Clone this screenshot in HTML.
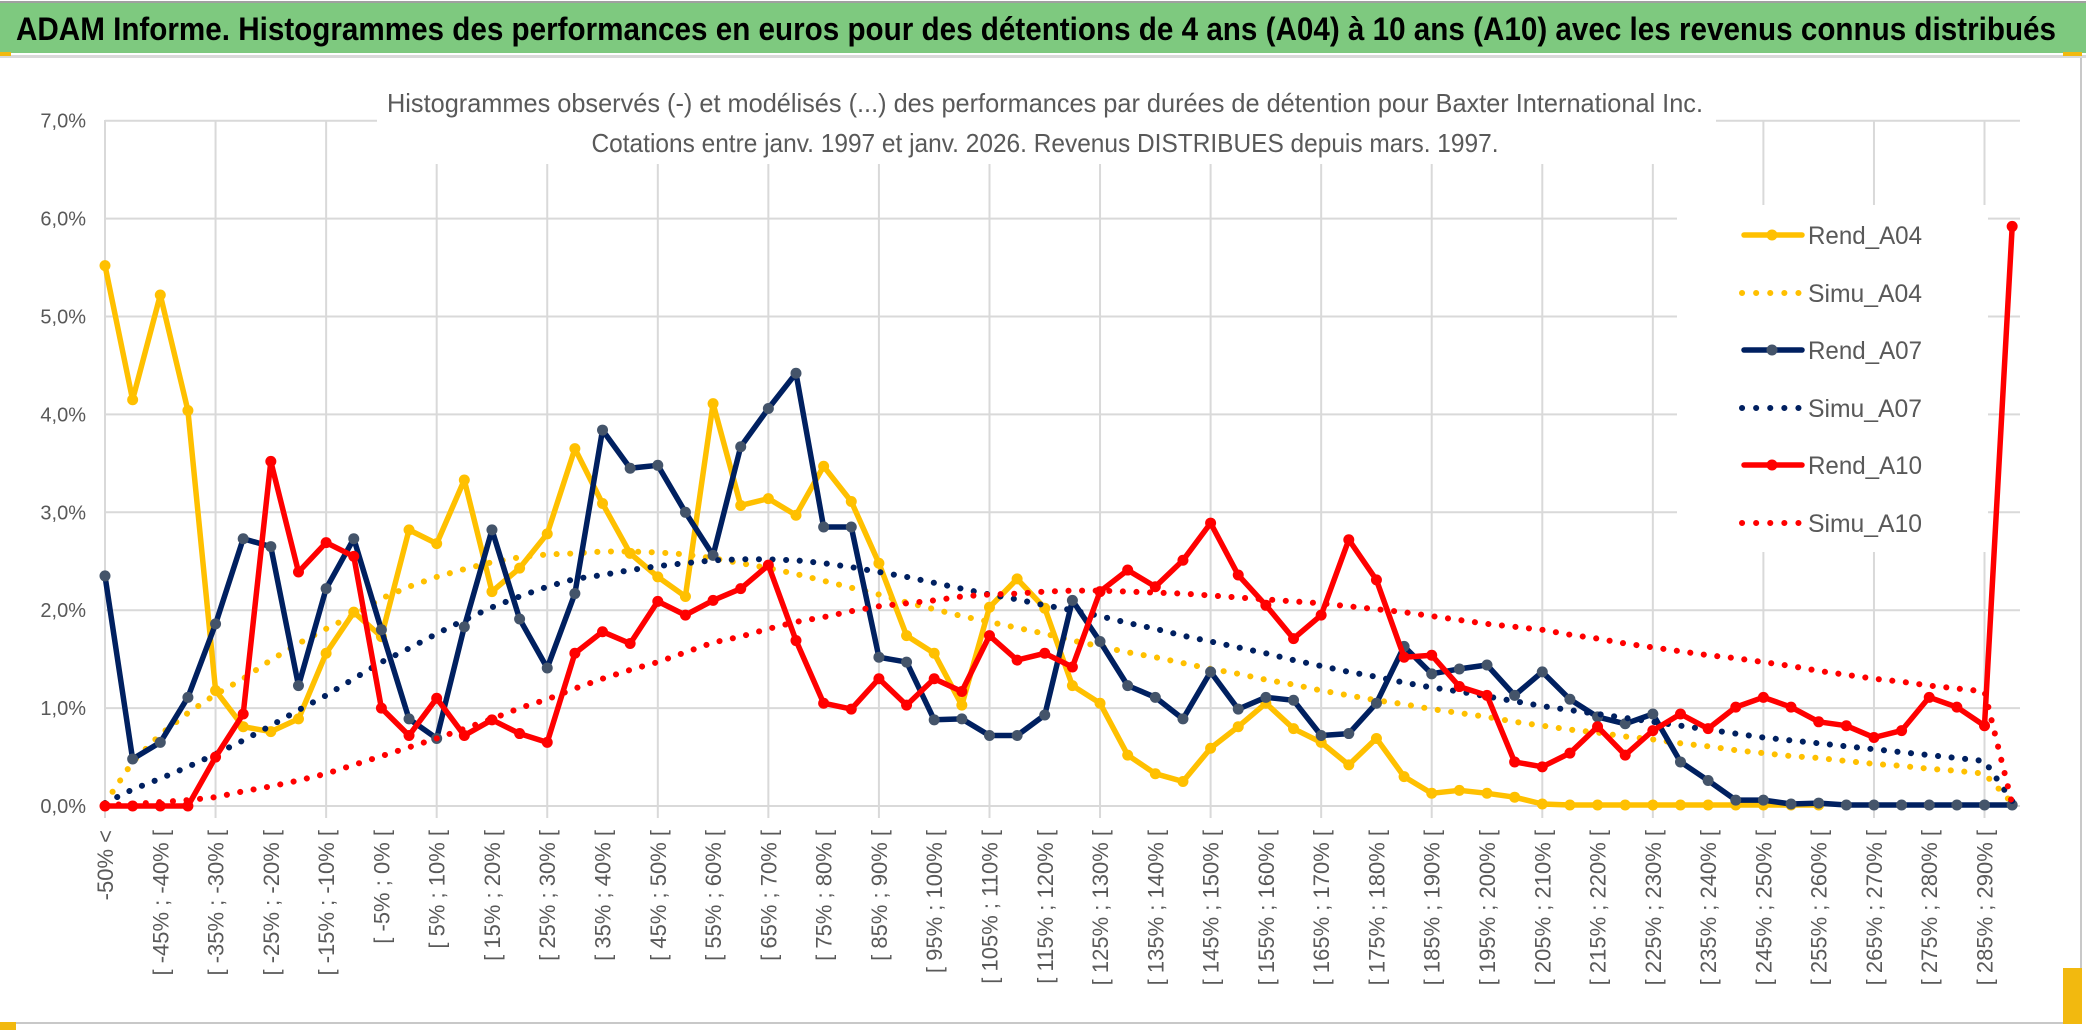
<!DOCTYPE html>
<html><head><meta charset="utf-8">
<style>
html,body{margin:0;padding:0;background:#fff;}
svg{display:block;}
text{font-family:"Liberation Sans Narrow","Liberation Sans",sans-serif;}
</style></head>
<body>
<svg id="chart" width="2086" height="1033" viewBox="0 0 2086 1033" xmlns="http://www.w3.org/2000/svg">
  <rect x="0" y="0" width="2086" height="1033" fill="#ffffff"/>
  <rect x="0" y="1" width="2086" height="2" fill="#a0a0a0"/>
  <rect x="0" y="3" width="2086" height="50" fill="#7ec97f"/>
  <text x="16" y="40" font-size="32" font-weight="bold" fill="#000" textLength="2040" lengthAdjust="spacingAndGlyphs">ADAM Informe. Histogrammes des performances en euros pour des détentions de 4 ans (A04) à 10 ans (A10) avec les revenus connus distribués</text>
  <rect x="0" y="55" width="2086" height="3" fill="#d9d9d9"/>
  <rect x="0" y="52" width="11" height="4" fill="#f2b90f"/>
  <rect x="2063" y="52" width="19" height="4" fill="#f2b90f"/>
  <rect x="2080" y="58" width="2" height="966" fill="#c8c8c8"/>
  <rect x="0" y="1022" width="2082" height="2" fill="#c8c8c8"/>
  <rect x="2063" y="968" width="19" height="56" fill="#f2b90f"/>
  <rect x="0" y="1022" width="16" height="8" fill="#f2b90f"/>
  <g id="grid"></g>
  <g id="ylabels"></g>
  <g id="xlabels"></g>
  <rect x="377" y="60" width="1339" height="104" fill="#ffffff"/>
  <text x="1045" y="112" font-size="26" fill="#595959" text-anchor="middle" textLength="1316" lengthAdjust="spacingAndGlyphs">Histogrammes observés (-) et modélisés (...) des performances par durées de détention pour Baxter International Inc.</text>
  <text x="1045" y="152" font-size="26" fill="#595959" text-anchor="middle" textLength="907" lengthAdjust="spacingAndGlyphs">Cotations entre janv. 1997 et janv. 2026. Revenus DISTRIBUES depuis mars. 1997.</text>
  <rect x="1677" y="205" width="311" height="347" fill="#ffffff"/>
  <g id="series"></g>
  <g id="legend"></g>
</svg>
<script>
const rendA04 = [5.52,4.15,5.22,4.04,1.18,0.81,0.76,0.89,1.56,1.98, 1.73,2.82,2.68,3.33,2.19,2.43,2.78,3.65,3.09,2.58, 2.34,2.14,4.11,3.07,3.14,2.97,3.47,3.11,2.48,1.74, 1.56,1.03,2.03,2.32,2.02,1.23,1.05,0.52,0.33,0.25, 0.59,0.81,1.05,0.79,0.65,0.42,0.69,0.30,0.13,0.16, 0.13,0.09,0.02,0.01,0.01,0.01,0.01,0.01,0.01,0.01, 0.01,0.01,0.01,null,null,null,null,null,null,null];
const simuA04 = [0.03,0.45,0.73,0.95,1.14,1.30,1.49,1.66,1.81,1.95, 2.12,2.24,2.34,2.42,2.49,2.54,2.57,2.58,2.60,2.60, 2.59,2.57,2.53,2.48,2.43,2.37,2.30,2.23,2.16,2.08, 2.01,1.94,1.88,1.82,1.76,1.69,1.63,1.57,1.52,1.46, 1.40,1.35,1.29,1.24,1.18,1.13,1.08,1.04,0.99,0.95, 0.91,0.86,0.82,0.78,0.75,0.71,0.68,0.64,0.61,0.57, 0.54,0.51,0.49,0.46,0.43,0.41,0.38,0.36,0.33,0.03];
const rendA07 = [2.35,0.48,0.65,1.11,1.86,2.73,2.65,1.23,2.22,2.73, 1.80,0.89,0.69,1.83,2.82,1.91,1.41,2.17,3.84,3.45, 3.48,3.00,2.56,3.67,4.06,4.42,2.85,2.85,1.52,1.47, 0.88,0.89,0.72,0.72,0.93,2.10,1.68,1.23,1.11,0.89, 1.37,0.99,1.11,1.08,0.72,0.74,1.05,1.63,1.35,1.40, 1.44,1.13,1.37,1.09,0.91,0.84,0.94,0.45,0.26,0.06, 0.06,0.02,0.03,0.01,0.01,0.01,0.01,0.01,0.01,0.01];
const simuA07 = [0.03,0.17,0.28,0.40,0.53,0.67,0.82,0.98,1.13,1.30, 1.47,1.61,1.76,1.90,2.03,2.14,2.24,2.32,2.36,2.41, 2.45,2.48,2.51,2.52,2.52,2.51,2.48,2.44,2.39,2.34, 2.28,2.22,2.16,2.11,2.05,2.00,1.94,1.87,1.81,1.74, 1.68,1.62,1.56,1.49,1.43,1.37,1.32,1.26,1.21,1.17, 1.12,1.07,1.02,0.98,0.94,0.90,0.86,0.82,0.78,0.74, 0.70,0.67,0.64,0.61,0.58,0.55,0.52,0.49,0.46,0.05];
const rendA10 = [0,0,0,0,0.50,0.94,3.52,2.39,2.69,2.55, 1.00,0.72,1.10,0.72,0.88,0.74,0.65,1.56,1.78,1.66, 2.09,1.95,2.10,2.22,2.46,1.69,1.05,0.99,1.30,1.03, 1.30,1.17,1.74,1.49,1.56,1.42,2.19,2.41,2.24,2.51, 2.89,2.36,2.05,1.71,1.95,2.72,2.31,1.52,1.54,1.22, 1.13,0.45,0.40,0.54,0.81,0.52,0.77,0.94,0.79,1.01, 1.11,1.01,0.86,0.82,0.70,0.77,1.11,1.01,0.82,5.92];
const simuA10 = [0.01,0.02,0.04,0.06,0.09,0.15,0.20,0.26,0.33,0.42, 0.51,0.60,0.69,0.79,0.89,1.00,1.09,1.20,1.30,1.39, 1.47,1.57,1.67,1.73,1.81,1.88,1.93,1.99,2.04,2.07, 2.10,2.14,2.16,2.17,2.19,2.20,2.20,2.19,2.18,2.17, 2.15,2.13,2.11,2.09,2.07,2.04,2.01,1.98,1.94,1.90, 1.86,1.83,1.80,1.75,1.71,1.66,1.62,1.58,1.54,1.51, 1.47,1.43,1.38,1.34,1.30,1.27,1.23,1.20,1.17,0.02];
const yTicks = [0,1,2,3,4,5,6,7];
const yTickLabels = ["0,0%","1,0%","2,0%","3,0%","4,0%","5,0%","6,0%","7,0%"];
const binLows = [];
for (let k = 1; k < 70; k++) binLows.push(-55 + 5 * k);

const NS = "http://www.w3.org/2000/svg";
const N = 70;
const X0 = 105, DX = 27.64;
const Y0 = 806, DY = 97.9;
function xs(i){ return X0 + DX * i; }
function ys(v){ return Y0 - DY * v; }
function mk(tag, attrs, parent){
  const e = document.createElementNS(NS, tag);
  for (const k in attrs) e.setAttribute(k, attrs[k]);
  parent.appendChild(e);
  return e;
}
const grid = document.getElementById('grid');
const ylab = document.getElementById('ylabels');
const xlab = document.getElementById('xlabels');
const ser = document.getElementById('series');
const leg = document.getElementById('legend');
const plotRight = 2020;

yTicks.forEach((t, i) => {
  const l = mk('line', {x1: X0, x2: plotRight, y1: ys(t), y2: ys(t), stroke: '#d9d9d9', 'stroke-width': 2}, grid);
  
  
  const tx = mk('text', {x: 86, y: ys(t) + 7, 'font-size': 20, fill: '#595959', 'text-anchor': 'end'}, ylab);
  tx.textContent = yTickLabels[i];
  
  
});
for (let i = 0; i < N; i += 4) {
  const l = mk('line', {x1: xs(i), x2: xs(i), y1: 120, y2: Y0 + 12, stroke: '#d9d9d9', 'stroke-width': 2}, grid);
  
  
}
for (let i = 0; i < N; i += 2) {
  let label;
  if (i === 0) label = "-50% <";
  else { const lo = binLows[i - 1]; label = "[ " + lo + "% ; " + (lo + 5) + "% ["; }
  const x = xs(i) + 8, y = 830;
  const tx = mk('text', {x: x, y: y, 'font-size': 22, fill: '#595959', 'text-anchor': 'end', transform: 'rotate(-90 ' + x + ' ' + y + ')', style: 'font-family:"Liberation Sans",sans-serif'}, xlab);
  tx.textContent = label;
  
  
}

function pathFrom(arr){
  let d = '', pen = false;
  arr.forEach((v, i) => {
    if (v === null) { pen = false; return; }
    d += (pen ? 'L' : 'M') + xs(i).toFixed(1) + ' ' + ys(v).toFixed(1) + ' ';
    pen = true;
  });
  return d;
}
function solid(arr, color, mcolor, name){
  const p = mk('path', {d: pathFrom(arr), fill: 'none', stroke: color, 'stroke-width': 5.5, 'stroke-linejoin': 'round'}, ser);
  
  
  arr.forEach((v, i) => {
    if (v === null) return;
    const c = mk('circle', {cx: xs(i), cy: ys(v), r: 5.5, fill: mcolor}, ser);
    
    
  });
}
function dotted(arr, color, name){
  const p = mk('path', {d: pathFrom(arr), fill: 'none', stroke: color, 'stroke-width': 6, 'stroke-linecap': 'round', 'stroke-dasharray': '0.1 13.5'}, ser);
  
  
}
solid(rendA04, '#ffc000', '#ffc000', 'rend-a04');
dotted(simuA04, '#ffc000', 'simu-a04');
solid(rendA07, '#002060', '#44546a', 'rend-a07');
dotted(simuA07, '#002060', 'simu-a07');
solid(rendA10, '#ff0000', '#ff0000', 'rend-a10');
dotted(simuA10, '#ff0000', 'simu-a10');

const legNames = ["Rend_A04","Simu_A04","Rend_A07","Simu_A07","Rend_A10","Simu_A10"];
const legColors = ['#ffc000','#ffc000','#002060','#002060','#ff0000','#ff0000'];
const legMarkers = ['#ffc000',null,'#44546a',null,'#ff0000',null];
const legY = [235,293,350,408,465,523];
legNames.forEach((n, i) => {
  const g = mk('g', {}, leg);
  
  
  const y = legY[i];
  if (legMarkers[i]) {
    mk('line', {x1: 1744, x2: 1802, y1: y, y2: y, stroke: legColors[i], 'stroke-width': 5.5, 'stroke-linecap': 'round'}, g);
    mk('circle', {cx: 1772, cy: y, r: 5.5, fill: legMarkers[i]}, g);
  } else {
    mk('line', {x1: 1742, x2: 1801, y1: y, y2: y, stroke: legColors[i], 'stroke-width': 6, 'stroke-linecap': 'round', 'stroke-dasharray': '0.1 14'}, g);
  }
  const t = mk('text', {x: 1808, y: y + 9, 'font-size': 25, fill: '#595959', textLength: 114, lengthAdjust: 'spacingAndGlyphs'}, g);
  t.textContent = n;
});
</script>
</body></html>
